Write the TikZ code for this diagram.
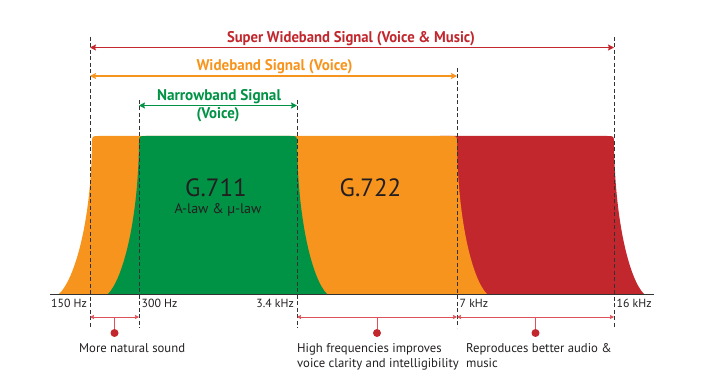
\documentclass[tikz,border=0pt]{standalone}
\usepackage{graphicx}
\usepackage{fontspec}
\setmainfont{PT Sans}
\usetikzlibrary{arrows.meta}
\definecolor{cRed}{HTML}{C1272D}
\definecolor{cOrange}{HTML}{F7941D}
\definecolor{cGreen}{HTML}{009245}
\definecolor{cAxis}{HTML}{333333}
\definecolor{cPink}{HTML}{DE5158}
\definecolor{cText}{HTML}{231F20}
\begin{document}
\begin{tikzpicture}[x=1pt,y=-1pt,
  dashline/.style={draw=cAxis, line width=0.8pt, dash pattern=on 4pt off 2.5pt},
  dimarrow/.style={line width=1.1pt, {Stealth[length=6pt,width=6pt,inset=1pt]}-{Stealth[length=6pt,width=6pt,inset=1pt]}},
  notearrow/.style={draw=cPink, line width=0.8pt, {Stealth[length=4pt,width=4pt,inset=0.5pt]}-{Stealth[length=4pt,width=4pt,inset=0.5pt]}},
  stem/.style={draw=cPink, line width=0.8pt},
  titletext/.style={font=\bfseries\fontsize{15.5}{16}\selectfont, inner sep=0pt, anchor=base},
  freq/.style={font=\fontsize{11.8}{13}\selectfont, inner sep=0pt, text=cText},
  note/.style={font=\fontsize{12.7}{14}\selectfont, inner sep=0pt, anchor=base west, text=cText},
  dot/.style={circle, fill=cRed, inner sep=0pt, minimum size=8pt},
  codec/.style={font=\fontsize{25}{26}\selectfont, inner sep=0pt, anchor=base, text=cText},
  codecsub/.style={font=\fontsize{14}{15}\selectfont, inner sep=0pt, anchor=base, text=cText},
]
\useasboundingbox (0,0) rectangle (704,379);

% band shapes
\fill[cRed] (440,294) -- (440,136) -- (607,136) .. controls (614,136) .. (614,143)
  .. controls (615,224) and (630,280) .. (644,294) -- cycle;
\fill[cOrange] (59,294) .. controls (74,280) and (91,224) .. (92,143)
  .. controls (92,136) .. (99,136) -- (450,136) .. controls (457,136) .. (457,143)
  .. controls (458,224) and (473,280) .. (487,294) -- cycle;
\fill[cGreen] (108,294) .. controls (122,280) and (138,224) .. (139,143)
  .. controls (139,136) .. (146,136) -- (290,136) .. controls (297,136) .. (297,143)
  .. controls (298,224) and (313,280) .. (327,294) -- cycle;

% axis
\coordinate (axL) at (50,294.5);
\coordinate (axR) at (654,294.5);
\draw[cAxis, line width=1pt] (axL) -- (axR);

% dashed guide lines
\coordinate (d1t) at (90,37);  \coordinate (d1b) at (90,328);
\coordinate (d2t) at (139,100); \coordinate (d2b) at (139,328);
\coordinate (d3t) at (297,100); \coordinate (d3b) at (297,328);
\coordinate (d4t) at (457,68);  \coordinate (d4b) at (457,328);
\coordinate (d5t) at (614,37); \coordinate (d5b) at (614,328);
\foreach \i in {1,...,5} \draw[dashline] (d\i t) -- (d\i b);

% dimension arrows
\coordinate (swL) at (90,47.5);  \coordinate (swR) at (614,47.5);
\coordinate (wbL) at (90,76);    \coordinate (wbR) at (457,76);
\coordinate (nbL) at (139,105.5); \coordinate (nbR) at (297,105.5);
\draw[dimarrow, cRed] (swL) -- (swR);
\draw[dimarrow, cOrange] (wbL) -- (wbR);
\draw[dimarrow, cGreen] (nbL) -- (nbR);

\node[titletext, text=cRed] (tsw) at (351,43) {\resizebox{248pt}{\height}{Super Wideband Signal (Voice \& Music)}};
\node[titletext, text=cOrange] (twb) at (274.5,71) {\resizebox{156pt}{\height}{Wideband Signal (Voice)}};
\node[titletext, text=cGreen] (tnb) at (219,101) {\resizebox{124pt}{\height}{Narrowband Signal}};
\node[titletext, text=cGreen] (tnb2) at (218,118.5) {\resizebox{43pt}{\height}{(Voice)}};

% codec labels
\node[codec] (g711) at (216,197) {G.711};
\node[codecsub] (g711s) at (218,213.5) {A-law \& µ-law};
\node[codec] (g722) at (370.5,197) {G.722};

% frequency labels
\node[freq, anchor=base east] (f1) at (87,308) {150 Hz};
\node[freq, anchor=base west] (f2) at (141.5,308) {300 Hz};
\node[freq, anchor=base east] (f3) at (294,308) {3.4 kHz};
\node[freq, anchor=base west] (f4) at (459.5,308) {7 kHz};
\node[freq, anchor=base west] (f5) at (616.5,308) {16 kHz};

% notes
\coordinate (b1L) at (90,317);  \coordinate (b1R) at (139,317);
\coordinate (b2L) at (297,317); \coordinate (b2R) at (457,317);
\coordinate (b3L) at (457,317); \coordinate (b3R) at (614,317);
\draw[notearrow] (b1L) -- (b1R);
\draw[notearrow] (b2L) -- (b2R);
\draw[notearrow] (b3L) -- (b3R);
\coordinate (m1) at (114.5,317);
\coordinate (m2) at (377,317);
\coordinate (m3) at (535.5,317);
\node[dot] (dot1) at (114.5,333) {};
\node[dot] (dot2) at (377,333) {};
\node[dot] (dot3) at (535.5,333) {};
\draw[stem] (m1) -- (dot1);
\draw[stem] (m2) -- (dot2);
\draw[stem] (m3) -- (dot3);

\node[note] (n1) at (79,352) {More natural sound};
\node[note] (n2a) at (297,352) {High frequencies improves};
\node[note] (n2b) at (297,367.5) {voice clarity and intelligibility};
\node[note] (n3a) at (466,352) {Reproduces better audio \&};
\node[note] (n3b) at (466,367.5) {music};
\end{tikzpicture}
\end{document}
